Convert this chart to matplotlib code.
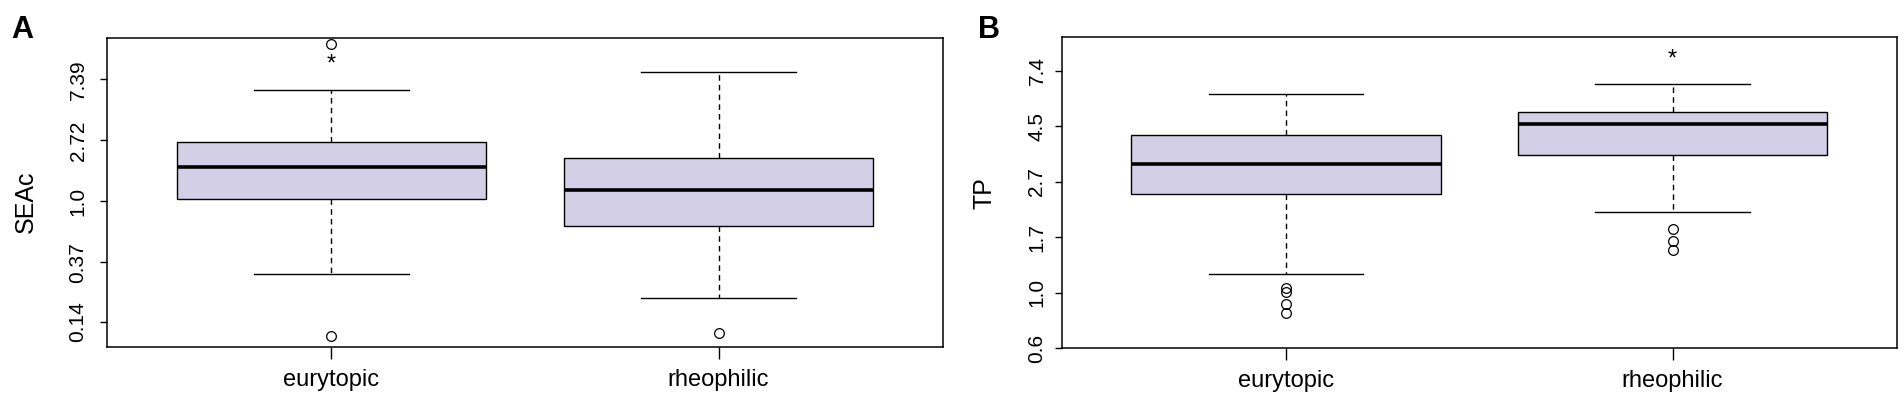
import numpy as np
import matplotlib.pyplot as plt

plt.rcParams['font.family'] = ['Liberation Sans', 'DejaVu Sans']

groups = ['eurytopic', 'rheophilic']

# panel A: SEAc (five-number summaries)
seac_whislo = [0.306, 0.205]
seac_q1 = [1.05, 0.672]
seac_med = [1.77, 1.20]
seac_q3 = [2.66, 2.04]
seac_whishi = [6.23, 8.37]
seac_fliers = [[13.1, 0.111], [0.117]]
seac_star = [9.34, None]
seac_ticks = [0.14, 0.37, 1.0, 2.72, 7.39]
seac_ticklabels = ['0.14', '0.37', '1.0', '2.72', '7.39']
seac_ylim = [0.0925, 14.5]

# panel B: TP
tp_whislo = [1.18, 2.06]
tp_q1 = [2.44, 3.47]
tp_med = [3.19, 4.58]
tp_q3 = [4.13, 5.07]
tp_whishi = [6.01, 6.57]
tp_fliers = [[1.04, 1.01, 0.90, 0.83], [1.78, 1.59, 1.47]]
tp_star = [None, 8.13]
tp_ticks = [np.exp(-0.5), 1.0, np.exp(0.5), np.exp(1), np.exp(1.5), np.exp(2)]
tp_ticklabels = ['0.6', '1.0', '1.7', '2.7', '4.5', '7.4']
tp_ylim = [np.exp(-0.5), 9.97]

fill = '#d3cfe6'


def panel(ax, whislo, q1, med, q3, whishi, fliers, star, ticks, ticklabels,
          ylim, ylabel, letter, ypad, label_x, label_y, letter_x):
    stats = []
    for i, g in enumerate(groups):
        stats.append(dict(label=g, whislo=whislo[i], q1=q1[i], med=med[i],
                          q3=q3[i], whishi=whishi[i], fliers=fliers[i]))
    ax.bxp(stats, positions=[1, 2], widths=0.8, patch_artist=True,
           boxprops=dict(facecolor=fill, edgecolor='black', linewidth=1.0),
           medianprops=dict(color='black', linewidth=2.6),
           whiskerprops=dict(color='black', linewidth=1.0, linestyle=(0, (4, 3))),
           capprops=dict(color='black', linewidth=1.0),
           capwidths=0.4,
           flierprops=dict(marker='o', markersize=7, markerfacecolor='none',
                           markeredgecolor='black', markeredgewidth=0.9))
    for i, s in enumerate(star):
        if s is not None:
            ax.text(i + 1, s, '*', ha='center', va='center', fontsize=17)
    ax.set_yscale('log', base=np.e)
    ax.set_ylim(ylim)
    ax.set_xlim(0.42, 2.58)
    ax.set_yticks(ticks)
    ax.set_yticklabels(ticklabels, rotation=90, va='center')
    ax.minorticks_off()
    ax.tick_params(axis='y', length=5, width=1, labelsize=15, pad=ypad)
    ax.tick_params(axis='x', length=8.5, width=1, labelsize=17, pad=7)
    for sp in ax.spines.values():
        sp.set_linewidth(1.1)
    ax.set_ylabel(ylabel, fontsize=18)
    ax.yaxis.set_label_coords(label_x, label_y)
    ax.text(letter_x, 1.025, letter, transform=ax.transAxes, fontsize=22,
            fontweight='bold', ha='center', va='center')


fig = plt.figure(figsize=(19.04, 3.96), dpi=100)
axA = fig.add_axes([0.0562, 0.1237, 0.4391, 0.7803])
axB = fig.add_axes([0.5576, 0.1205, 0.4386, 0.7853])

panel(axA, seac_whislo, seac_q1, seac_med, seac_q3, seac_whishi, seac_fliers,
      seac_star, seac_ticks, seac_ticklabels, seac_ylim, 'SEAc', 'A', 9,
      -0.0825, 0.47, -0.101)
panel(axB, tp_whislo, tp_q1, tp_med, tp_q3, tp_whishi, tp_fliers,
      tp_star, tp_ticks, tp_ticklabels, tp_ylim, 'TP', 'B', 6,
      -0.0778, 0.5, -0.087)

fig.savefig('out.png', dpi=100)
